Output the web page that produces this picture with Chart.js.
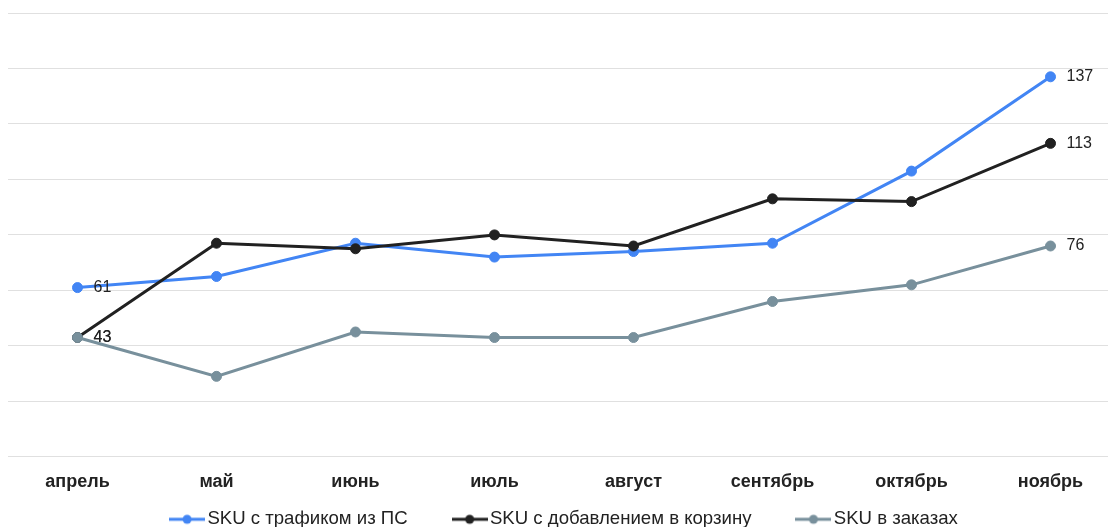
<!DOCTYPE html>
<html>
<head>
<meta charset="utf-8">
<script src="https://cdn.jsdelivr.net/npm/chart.js@4"></script>
<style>
  html, body { margin: 0; padding: 0; background: #fff; }
  #wrap { width: 1108px; height: 527px; overflow: hidden; position: relative; }
  #box { width: 1126px; height: 586px; position: absolute; left: 0; top: 0; }
</style>
</head>
<body>
<div id="wrap"><div id="box"><canvas id="myChart"></canvas></div></div>
<script>
var months = ["апрель", "май", "июнь", "июль", "август", "сентябрь", "октябрь", "ноябрь"];
var traffic = [61, 65, 77, 72, 74, 77, 103, 137];
var cart = [43, 77, 75, 80, 76, 93, 92, 113];
var orders = [43, 29, 45, 43, 43, 56, 62, 76];
var seriesNames = ["SKU с трафиком из ПС", "SKU с добавлением в корзину", "SKU в заказах"];
var colors = ["#4285f4", "#212121", "#78909c"];
var FONT = "'Liberation Sans', Arial, sans-serif";

// legend marker: short line with a dot in the middle
function marker(color) {
  var c = document.createElement("canvas");
  c.width = 36; c.height = 12;
  var ctx = c.getContext("2d");
  ctx.strokeStyle = color;
  ctx.lineWidth = 3;
  ctx.beginPath(); ctx.moveTo(0, 6); ctx.lineTo(36, 6); ctx.stroke();
  ctx.fillStyle = color;
  ctx.beginPath(); ctx.arc(18, 6, 4.5, 0, Math.PI * 2); ctx.fill();
  return c;
}

var endLabels = {
  id: "endLabels",
  afterDatasetsDraw: function (chart) {
    var ctx = chart.ctx;
    ctx.save();
    ctx.font = "16px " + FONT;
    ctx.fillStyle = "#222";
    ctx.textBaseline = "middle";
    chart.data.datasets.forEach(function (ds, i) {
      var pts = chart.getDatasetMeta(i).data;
      [0, pts.length - 1].forEach(function (j) {
        ctx.fillText(ds.data[j], pts[j].x + 16, pts[j].y);
      });
    });
    ctx.restore();
  }
};

// pull the legend up closer to the axis labels
var legendShift = {
  id: "legendShift",
  afterLayout: function (chart) {
    var L = chart.legend;
    var d = (519 - 51 - 9) - L.top;
    L.top += d;
    L.bottom += d;
  }
};

function makeSet(i, data, order) {
  return {
    label: seriesNames[i],
    data: data,
    borderColor: colors[i],
    backgroundColor: colors[i],
    pointBackgroundColor: colors[i],
    pointBorderColor: colors[i],
    borderWidth: 3,
    pointRadius: 5,
    pointBorderWidth: 1,
    fill: false,
    tension: 0,
    order: order
  };
}

new Chart("myChart", {
  type: "line",
  data: {
    labels: months,
    datasets: [makeSet(0, traffic, 3), makeSet(1, cart, 2), makeSet(2, orders, 1)]
  },
  options: {
    responsive: true,
    maintainAspectRatio: false,
    animation: false,
    layout: { padding: { left: 8, top: 13, right: 0, bottom: 0 } },
    plugins: {
      tooltip: { enabled: false },
      legend: {
        position: "bottom",
        labels: {
          usePointStyle: true,
          pointStyleWidth: 22,
          padding: 51,
          color: "#222",
          font: { family: FONT, size: 18.6 },
          generateLabels: function (chart) {
            return chart.data.datasets.map(function (ds, i) {
              return {
                text: ds.label,
                pointStyle: marker(colors[i]),
                fillStyle: colors[i],
                strokeStyle: colors[i],
                lineWidth: 0,
                fontColor: "#222",
                datasetIndex: i
              };
            });
          }
        }
      }
    },
    scales: {
      x: {
        offset: true,
        grid: { display: false, drawTicks: false },
        border: { display: false },
        ticks: {
          padding: 14,
          color: "#222",
          maxRotation: 0,
          autoSkip: false,
          font: { family: FONT, size: 18, weight: "bold" }
        }
      },
      y: {
        min: 0,
        max: 160,
        ticks: { display: false, stepSize: 20 },
        grid: { color: "#e0e0e0", lineWidth: 1, drawTicks: false },
        border: { display: false },
        afterFit: function (scale) { scale.width = 0; }
      }
    }
  },
  plugins: [endLabels, legendShift]
});
</script>
</body>
</html>
